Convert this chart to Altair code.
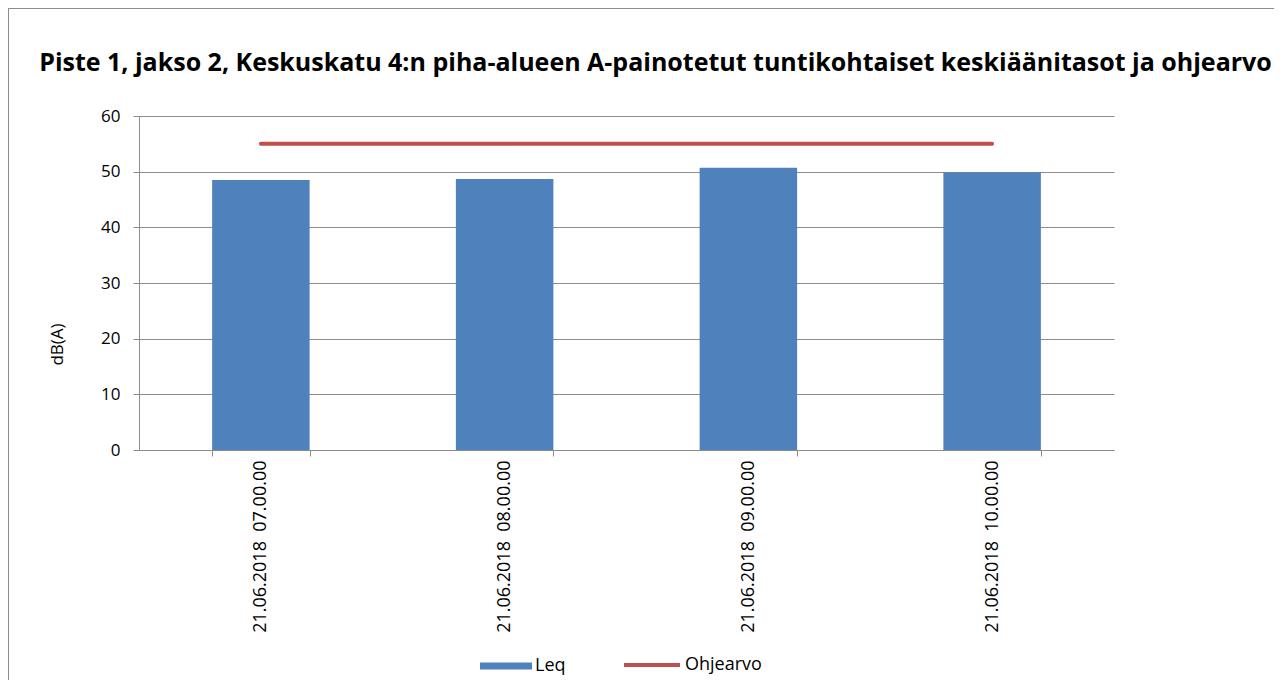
import altair as alt
import pandas as pd

categories = ["21.06.2018\u00a0 07.00.00", "21.06.2018\u00a0 08.00.00",
              "21.06.2018\u00a0 09.00.00", "21.06.2018\u00a0 10.00.00"]
leq = [48.5, 48.7, 50.7, 49.9]
ohjearvo = [55, 55, 55, 55]
y_ticks = [0, 10, 20, 30, 40, 50, 60]

df = pd.DataFrame({"aika": categories, "Leq": leq, "Ohjearvo": ohjearvo,
                   "s1": ["Leq"] * 4, "s2": ["Ohjearvo"] * 4})

FONT = "Open Sans"
W, H = 975, 334

xenc = alt.X("aika:N", sort=categories, title=None,
             scale=alt.Scale(paddingInner=0.6, paddingOuter=0.3),
             axis=alt.Axis(labelAngle=-90, labelFont=FONT, labelFontSize=18,
                           labelColor="#000", tickBand="extent", tickSize=6,
                           tickColor="#8c8c8c", domainColor="#8c8c8c",
                           labelPadding=4, grid=False))

bars = alt.Chart(df).mark_bar(color="#4f81bd").encode(
    x=xenc,
    y=alt.Y("Leq:Q", title="dB(A)",
            scale=alt.Scale(domain=[0, 60], nice=False),
            axis=alt.Axis(values=y_ticks, labelFont=FONT, labelFontSize=17,
                          labelColor="#000", tickSize=6, tickColor="#8c8c8c",
                          domainColor="#8c8c8c", gridColor="#8c8c8c",
                          labelPadding=13, titleFont=FONT, titleFontSize=17,
                          titleFontWeight="normal", titleColor="#000",
                          titleX=-73, titleY=228)),
    color=alt.Color("s1:N", scale=alt.Scale(domain=["Leq"], range=["#4f81bd"]),
                    legend=alt.Legend(title=None, orient="none", legendX=341, legendY=524,
                                      symbolType="M-1,-0.13H1V0.13H-1Z", symbolSize=2704,
                                      symbolStrokeWidth=0,
                                      labelFont=FONT, labelFontSize=18, labelColor="#000",
                                      labelOffset=3)),
)

line = alt.Chart(df).mark_line(strokeWidth=4, strokeCap="round").encode(
    x=alt.X("aika:N", sort=categories),
    y=alt.Y("Ohjearvo:Q"),
    stroke=alt.Stroke("s2:N", scale=alt.Scale(domain=["Ohjearvo"], range=["#c0504d"]),
                      legend=alt.Legend(title=None, orient="none", legendX=483, legendY=519,
                                        symbolType="stroke", symbolSize=3136,
                                        symbolStrokeWidth=4,
                                        labelFont=FONT, labelFontSize=18, labelColor="#000",
                                        labelOffset=3)),
)

frame_top = alt.Chart(df).mark_rule(color="#8c8c8c", strokeWidth=2).encode(
    x=alt.value(-131), x2=alt.value(W + 165), y=alt.value(-108))
frame_left = alt.Chart(df).mark_rule(color="#8c8c8c", strokeWidth=2).encode(
    x=alt.value(-131), y=alt.value(-108), y2=alt.value(H + 240))

chart = alt.layer(frame_top, frame_left, bars, line).resolve_scale(
    color="independent", stroke="independent"
).properties(
    width=W, height=H,
    autosize=alt.AutoSizeParams(type="none"),
    padding={"left": 131, "top": 108, "right": 160, "bottom": 230},
    title=alt.TitleParams(
        "Piste 1, jakso 2, Keskuskatu 4:n piha-alueen A-painotetut tuntikohtaiset keskiäänitasot ja ohjearvo",
        font=FONT, fontSize=25, fontWeight="bold", color="#000",
        anchor="middle", dx=29, offset=-69),
).configure_view(stroke=None).configure_axis(gridWidth=1, domainWidth=1)

chart.save("out.html", embed_options={"renderer": "svg", "actions": False})
